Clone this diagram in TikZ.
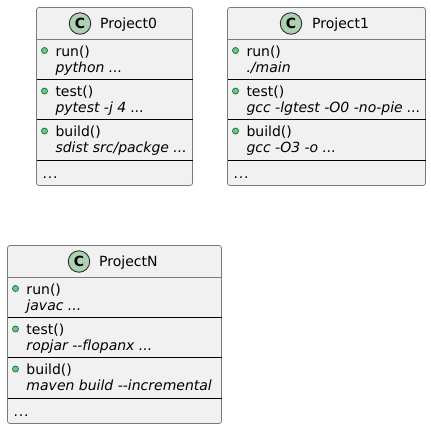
\documentclass[tikz,border=0pt]{standalone}
\usepackage{fontspec}
\setmainfont[Ligatures=NoCommon]{DejaVu Sans}
\definecolor{boxfill}{HTML}{F1F1F1}
\definecolor{boxline}{HTML}{7B7B7B}
\definecolor{circfill}{HTML}{ADD1B2}
\definecolor{circline}{HTML}{2E2E2E}
\definecolor{dotfill}{HTML}{84BE84}
\definecolor{dotline}{HTML}{038048}
\tikzset{
  classbox/.style={draw=boxline,fill=boxfill,line width=0.8pt,rounded corners=2.5pt},
  sepline/.style={draw=black,line width=0.8pt},
  headline/.style={draw=boxline,line width=0.8pt},
  lbl/.style={anchor=base west,inner sep=0pt,outer sep=0pt,font=\fontsize{14}{15}\selectfont,text=black},
  mth/.style={lbl,font=\fontsize{14}{15}\selectfont\itshape},
  titlelbl/.style={anchor=base west,inner sep=0pt,font=\fontsize{14}{15}\selectfont,text=black},
  badge/.style={circle,draw=circline,fill=circfill,line width=0.9pt,minimum size=21.5pt,inner sep=0pt,font=\fontsize{14}{14}\selectfont\bfseries},
  vis/.style={circle,draw=dotline,fill=dotfill,line width=0.8pt,minimum size=6pt,inner sep=0pt},
}
% #1 id, #2 left, #3 right, #4 top, #5 badge x, #6 title x, #7 title, #8 run, #9 test
\newcommand{\umlclass}[9]{%
  \def\cid{#1}\def\xl{#2}\def\xr{#3}\def\yt{#4}\def\bx{#5}\def\tx{#6}\def\ttl{#7}\def\mrun{#8}\def\mtest{#9}%
  \umlclassrest}
\newcommand{\umlclassrest}[1]{%
  \path[classbox] (\xl,\yt) rectangle (\xr,\yt+178);
  \draw[headline] (\xl,\yt+32) -- (\xr,\yt+32);
  \draw[sepline] (\xl,\yt+72) -- (\xr,\yt+72);
  \draw[sepline] (\xl,\yt+112) -- (\xr,\yt+112);
  \draw[sepline] (\xl,\yt+152.5) -- (\xr,\yt+152.5);
  \node[badge] (\cid c) at (\bx,\yt+16) {C};
  \node[titlelbl] (\cid t) at (\tx,\yt+20.5) {\ttl};
  \node[vis] (\cid v1) at (\xl+8,\yt+43) {};
  \node[lbl] (\cid a1) at (\xl+19,\yt+48.5) {run()};
  \node[mth] (\cid b1) at (\xl+19,\yt+64.5) {\mrun};
  \node[vis] (\cid v2) at (\xl+8,\yt+83.5) {};
  \node[lbl] (\cid a2) at (\xl+19,\yt+89) {test()};
  \node[mth] (\cid b2) at (\xl+19,\yt+105) {\mtest};
  \node[vis] (\cid v3) at (\xl+8,\yt+123.5) {};
  \node[lbl] (\cid a3) at (\xl+19,\yt+129) {build()};
  \node[mth] (\cid b3) at (\xl+19,\yt+145) {#1};
  \node[lbl] (\cid d) at (\xl+6,\yt+171) {.\kern0.9pt.\kern0.9pt.};
}
\begin{document}
\begin{tikzpicture}[x=1pt,y=-1pt]
\useasboundingbox (0,0) rectangle (431,429);
\umlclass{p}{36.5}{192.5}{7.5}{80}{100}{Project0}{python ...}{pytest -j 4 ...}{sdist src/packge ...}
\umlclass{q}{227.5}{425.5}{7.5}{291}{312}{Project1}{./main}{gcc -lgtest -O0 -no-pie ...}{gcc -O3 -o ...}
\umlclass{n}{7.5}{221.5}{245.5}{79}{99}{ProjectN}{javac ...}{ropjar -{}-flopanx ...}{maven build -{}-incremental}
\end{tikzpicture}
\end{document}
